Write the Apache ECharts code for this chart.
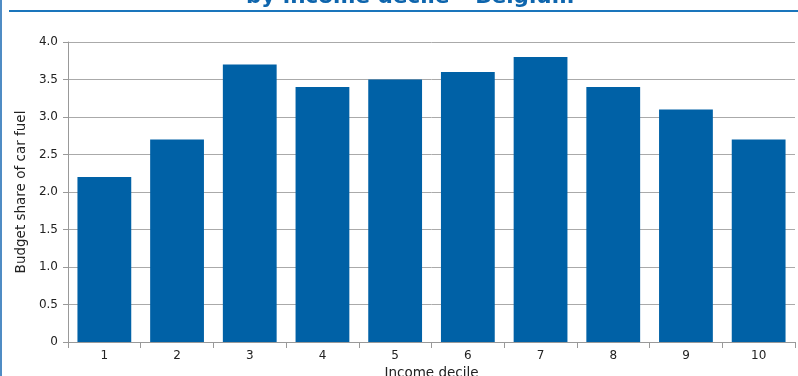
<!DOCTYPE html>
<html><head><meta charset="utf-8">
<script src="https://cdn.jsdelivr.net/npm/echarts@6/dist/echarts.min.js"></script>
<style>html,body{margin:0;padding:0;background:#fff}#c{width:798px;height:376px}</style>
</head><body><div id="c"></div>
<script>
var categories = ['1','2','3','4','5','6','7','8','9','10'];
var values = [2.2, 2.7, 3.7, 3.4, 3.5, 3.6, 3.8, 3.4, 3.1, 2.7];
var titleText = 'by income decile \u2013 Belgium';
var xName = 'Income decile';
var yName = 'Budget share of car fuel';

var chart = echarts.init(document.getElementById('c'), null, {renderer:'canvas'});
var font = 'DejaVu Sans';
chart.setOption({
  animation:false,
  textStyle:{fontFamily:font},
  grid:{left:68, right:3, top:42, bottom:34, containLabel:false, outerBoundsMode:'none'},
  graphic:[
    {type:'rect', shape:{x:0,y:0,width:2,height:376}, style:{fill:'#4f8cc4'}},
    {type:'rect', shape:{x:9,y:10,width:789,height:2}, style:{fill:'#1a75bc'}},
    {type:'text', x:410, y:8, style:{text:titleText, fontFamily:font, fontSize:21.5, fontWeight:'bold', fill:'#0e65ad', align:'center', verticalAlign:'bottom'}}
  ],
  xAxis:{
    type:'category', data:categories,
    name:xName, nameLocation:'middle', nameGap:19,
    nameTextStyle:{fontSize:13.5, color:'#222', fontFamily:font},
    axisLine:{lineStyle:{color:'#999'}},
    axisTick:{show:true, alignWithLabel:false, length:6, lineStyle:{color:'#999'}},
    axisLabel:{fontSize:12, color:'#222', margin:8, fontFamily:font}
  },
  yAxis:{
    type:'value', min:0, max:4, interval:0.5,
    name:yName, nameLocation:'middle', nameGap:40, nameRotate:90,
    nameTextStyle:{fontSize:13.5, color:'#222', fontFamily:font},
    axisLine:{show:true, lineStyle:{color:'#999'}},
    axisTick:{show:true, length:5, lineStyle:{color:'#999'}},
    splitLine:{lineStyle:{color:'#aaa'}},
    axisLabel:{fontSize:12, color:'#222', margin:10, fontFamily:font,
      formatter:function(v){return v===0?'0':v.toFixed(1);}}
  },
  series:[{type:'bar', data:values, barCategoryGap:'26%', itemStyle:{color:'#0061a6'}}]
});
</script></body></html>
